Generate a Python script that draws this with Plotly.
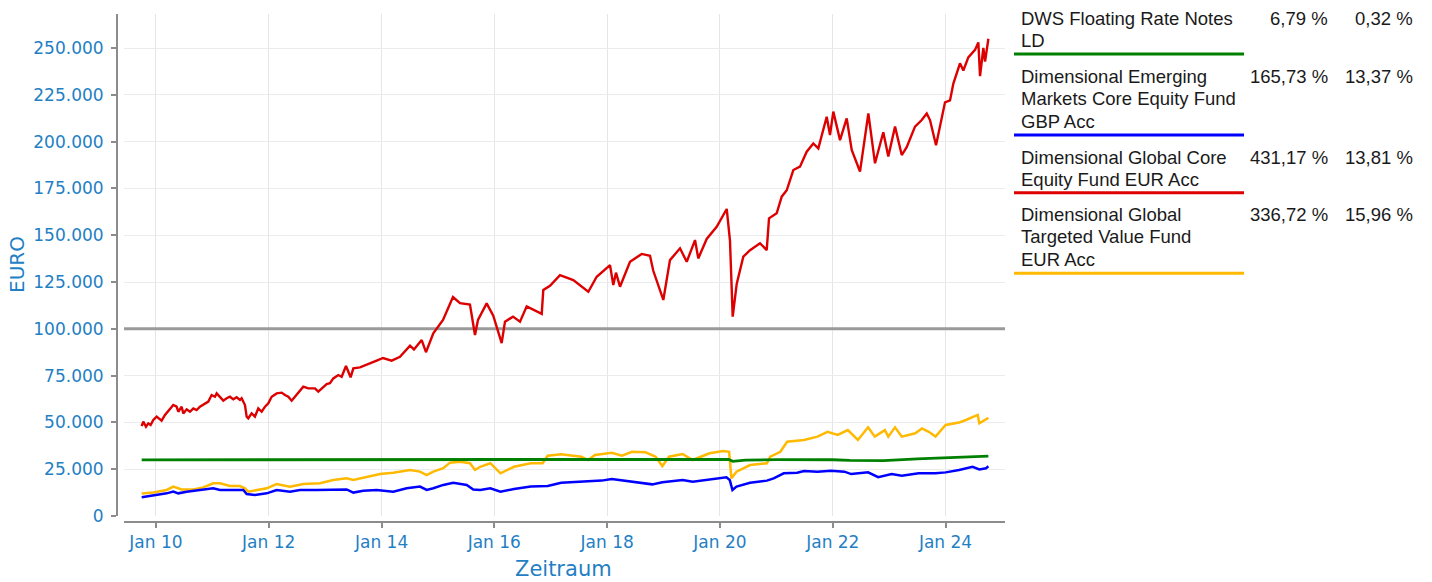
import pandas as pd
import plotly.graph_objects as go

# ---------------- data (time as decimal year, values in EUR) ----------------
green_t = [2009.747, 2012.0, 2015.0, 2018.0, 2020.15, 2020.225, 2020.45, 2021.0, 2021.6,
           2022.0, 2022.3, 2022.9, 2023.5, 2024.1, 2024.758]
green_v = [30000, 30050, 30100, 30150, 30300, 29200, 29900, 30100, 30200,
           30050, 29700, 29600, 30500, 31400, 32037]

blue_t = [2009.747, 2010.012, 2010.19, 2010.307, 2010.395, 2010.544, 2010.78, 2011.016, 2011.135, 2011.371,
          2011.548, 2011.608, 2011.755, 2011.963, 2012.14, 2012.376, 2012.553, 2012.849, 2013.144, 2013.381,
          2013.498, 2013.676, 2013.913, 2014.207, 2014.445, 2014.681, 2014.8, 2014.917, 2015.094, 2015.271,
          2015.509, 2015.626,
          2015.749, 2015.928, 2016.108, 2016.347, 2016.646, 2016.945, 2017.184, 2017.543, 2017.901, 2018.081,
          2018.44, 2018.798, 2018.978, 2019.336, 2019.516, 2019.815, 2020.114, 2020.173, 2020.221, 2020.293,
          2020.532, 2020.831, 2020.951, 2021.13, 2021.369, 2021.489, 2021.728, 2021.967, 2022.206, 2022.326,
          2022.625, 2022.804, 2023.043, 2023.223, 2023.522, 2023.821, 2024.0, 2024.239, 2024.478, 2024.598,
          2024.717, 2024.758]
blue_v = [10000, 11200, 12100, 13000, 12100, 13000, 13900, 14800, 13900, 13900,
          13900, 11750, 11200, 12100, 13900, 13000, 13900, 13900, 14200, 14200,
          12500, 13500, 13900, 13000, 14800, 15700, 13900, 14800, 16600, 17800,
          16600, 14200,
          13900, 14800, 13000, 14400, 15700, 16000, 17800, 18200, 18900, 19800,
          18300, 16900, 18000, 19200, 18300, 19600, 20700, 19200, 13900, 15700,
          17800, 18900, 20100, 22800, 23100, 24000, 23700, 24200, 23700, 22400,
          23300, 20700, 22400, 21500, 22800, 22800, 23300, 24600, 26300, 24900,
          25500, 26573]

red_t = [2009.746, 2009.775, 2009.823, 2009.864, 2009.905, 2009.953, 2010.012, 2010.071, 2010.10, 2010.16,
         2010.248, 2010.307, 2010.366, 2010.396, 2010.455, 2010.485, 2010.544, 2010.603, 2010.662, 2010.721,
         2010.78, 2010.839, 2010.928, 2010.987, 2011.046, 2011.076, 2011.135, 2011.194, 2011.253, 2011.312,
         2011.371, 2011.43, 2011.489, 2011.519, 2011.578, 2011.608, 2011.637, 2011.696, 2011.755, 2011.814,
         2011.874, 2011.933, 2011.992, 2012.051, 2012.14, 2012.228, 2012.287, 2012.346, 2012.406, 2012.465,
         2012.553, 2012.612, 2012.701, 2012.819, 2012.878, 2012.967, 2013.026, 2013.085, 2013.144, 2013.233,
         2013.292, 2013.369, 2013.41, 2013.451, 2013.499, 2013.617,
         2013.913,
         2014.025, 2014.179, 2014.326, 2014.504, 2014.574, 2014.711, 2014.787, 2014.917, 2015.089, 2015.266,
         2015.39, 2015.567, 2015.656, 2015.709, 2015.863, 2015.98, 2016.069, 2016.129, 2016.188, 2016.33,
         2016.454, 2016.573, 2016.839, 2016.867, 2016.986, 2017.163, 2017.399, 2017.665, 2017.814, 2018.05,
         2018.108, 2018.156, 2018.227, 2018.404, 2018.612, 2018.759, 2018.817, 2018.995, 2019.113, 2019.291,
         2019.41, 2019.557, 2019.615, 2019.764, 2019.941, 2020.119, 2020.177, 2020.225, 2020.296, 2020.413,
         2020.532, 2020.709, 2020.828, 2020.869, 2021.005, 2021.094, 2021.183, 2021.30, 2021.418, 2021.537,
         2021.654, 2021.743, 2021.892, 2021.95, 2022.009, 2022.128, 2022.246, 2022.335, 2022.482, 2022.63,
         2022.748, 2022.895, 2022.984, 2023.103, 2023.222, 2023.31, 2023.457, 2023.576, 2023.665, 2023.723,
         2023.83, 2023.931, 2023.989, 2024.078, 2024.137, 2024.255, 2024.314, 2024.402, 2024.521, 2024.58,
         2024.61, 2024.669, 2024.699, 2024.758]
red_v = [48000, 50400, 47700, 49500, 48600, 51300, 53100, 51600, 50900, 54000,
         57500, 59300, 58400, 55700, 58400, 54800, 57000, 55700, 57500, 56600,
         58400, 59300, 61100, 64600, 63700, 65500, 63700, 61600, 62900, 63700,
         62300, 63400, 62000, 62900, 59300, 53100, 52200, 54800, 53100, 57500,
         55700, 58400, 60200, 63700, 65500, 65900, 64600, 63700, 61600, 63700,
         67300, 69100, 68200, 68200, 66400, 69100, 70500, 70900, 73500, 75300,
         74400, 80100, 77100, 74100, 78900, 79400,
         83000,
         84400, 83000, 85000, 91000, 89000, 94000, 87500, 97600, 104700, 117000,
         113700, 113000, 96700, 104700, 113600, 107000, 97600, 92400, 103800, 106500,
         103800, 112000, 108000, 120700, 123000, 128700, 126000, 119800, 127800, 134000,
         123400, 130000, 122500, 135800, 140000, 139000, 131000, 115400, 136700, 143000,
         135800, 147400, 137600, 148000, 154500, 164000, 147000, 106500, 124000, 138500,
         142000, 145700, 142000, 159000, 161700, 170600, 174000, 184800, 186600, 194600,
         199000, 196400, 213300, 203500, 216000, 200800, 212400, 195500, 184000, 215000,
         188400, 205000, 192000, 208000, 192800, 197000, 208000, 211500, 215000, 211500,
         198000, 211500, 221000, 222000, 231000, 241800, 238000, 245000, 249000, 253000,
         235000, 250000, 242700, 254962]

yellow_t = [2009.747, 2009.952, 2010.19, 2010.307, 2010.456, 2010.661, 2010.839, 2011.016, 2011.135, 2011.312,
            2011.489, 2011.578, 2011.637, 2011.785, 2011.963, 2012.14, 2012.376, 2012.612, 2012.908, 2013.144,
            2013.381, 2013.498, 2013.736, 2013.972, 2014.207, 2014.504, 2014.681, 2014.8, 2014.917, 2015.094,
            2015.213, 2015.39, 2015.567, 2015.656,
            2015.749, 2015.928, 2016.108, 2016.347, 2016.646, 2016.855, 2016.945, 2017.184, 2017.543, 2017.662,
            2017.782, 2018.081, 2018.26, 2018.44, 2018.679, 2018.858, 2018.978, 2019.097, 2019.336, 2019.516,
            2019.815, 2020.054, 2020.161, 2020.203, 2020.293, 2020.532, 2020.831, 2020.891, 2021.07, 2021.19,
            2021.489, 2021.728, 2021.907, 2022.086, 2022.266, 2022.445, 2022.625, 2022.744, 2022.923, 2022.983,
            2023.103, 2023.223, 2023.462, 2023.581, 2023.701, 2023.821, 2024.0, 2024.239, 2024.359, 2024.568,
            2024.598, 2024.758]
yellow_v = [12000, 12500, 13900, 15700, 14200, 14200, 15300, 17500, 17500, 16000,
            16000, 14800, 13000, 13900, 14800, 17100, 15700, 17100, 17500, 19200,
            20100, 19200, 21000, 22400, 23100, 24600, 23700, 21900, 23700, 25500,
            28500, 29000, 28200, 24600,
            26300, 28200, 22800, 26300, 28200, 28200, 32200, 33000, 31700, 29900,
            32600, 33800, 32200, 34300, 34000, 31700, 26700, 31700, 33100, 29900,
            33500, 34700, 34300, 20100, 23700, 27200, 28200, 31700, 34300, 39700,
            40600, 42400, 45000, 43300, 45900, 40600, 47400, 42400, 45900, 42400,
            47400, 42400, 44200, 46800, 45000, 42400, 48600, 49900, 51300, 54000,
            49500, 52406]

fund_lines = [["DWS Floating Rate Notes", "LD"],
              ["Dimensional Emerging", "Markets Core Equity Fund", "GBP Acc"],
              ["Dimensional Global Core", "Equity Fund EUR Acc"],
              ["Dimensional Global", "Targeted Value Fund", "EUR Acc"]]
perf_total = ["6,79 %", "165,73 %", "431,17 %", "336,72 %"]
perf_pa = ["0,32 %", "13,37 %", "13,81 %", "15,96 %"]
colors = ["#008000", "#0000FF", "#DD0000", "#FFB900"]
reference_level = 100000
x_range = ["2009-06-08", "2025-01-20"]
y_range = [0, 268162]
y_ticks = [0, 25000, 50000, 75000, 100000, 125000, 150000, 175000, 200000, 225000, 250000]


def to_dates(years):
    base = pd.Timestamp("2010-01-01")
    return [(base + pd.Timedelta(days=(y - 2010.0) * 365.25)).round("h") for y in years]


series = [(green_t, green_v), (blue_t, blue_v), (red_t, red_v), (yellow_t, yellow_v)]
line_widths = [2.8, 2.5, 2.4, 2.5]
draw_order = [3, 1, 2, 0]   # yellow, blue, red, then green on top

# ---------------- layout geometry (pixels) ----------------
W, H = 1432, 582
L, R, T, B = 117, 1005, 14, 522      # subplot box
PW, PH = R - L, B - T


def xp(px):
    return (px - L) / PW


def yp(py):
    return (B - py) / PH


fig = go.Figure()
# reference level line (drawn first so the funds lie on top)
fig.add_trace(go.Scatter(x=x_range, y=[reference_level, reference_level], mode="lines",
                         line=dict(color="#9a9a9a", width=3), showlegend=False,
                         hoverinfo="skip"))
for k in draw_order:
    t, v = series[k]
    fig.add_trace(go.Scatter(x=to_dates(t), y=v, mode="lines",
                             line=dict(color=colors[k], width=line_widths[k]),
                             showlegend=False, hoverinfo="skip"))

tick_font = dict(family="DejaVu Sans", size=17, color="#1f80c4")

fig.update_layout(
    width=W, height=H,
    margin=dict(l=L, r=W - R, t=T, b=H - B, pad=0),
    paper_bgcolor="white", plot_bgcolor="white",
    separators=",.",
    showlegend=False,
    xaxis=dict(
        type="date",
        domain=[7 / PW, 1],
        anchor="free", position=0,
        range=x_range,
        tick0="2010-01-01", dtick="M24", tickformat="%b %y",
        showgrid=True, gridcolor="#e6e6ea", gridwidth=1,
        showline=True, linecolor="#8c8c8c", linewidth=2,
        ticks="outside", ticklen=5, tickwidth=1.5, tickcolor="#8c8c8c",
        tickfont=tick_font, zeroline=False,
    ),
    yaxis=dict(
        domain=[6 / PH, 1],
        anchor="free", position=0,
        range=y_range,
        tickvals=y_ticks, tickformat=",.0f",
        showgrid=True, gridcolor="#ececef", gridwidth=1,
        showline=True, linecolor="#8c8c8c", linewidth=2,
        ticks="outside", ticklen=5, tickwidth=1.5, tickcolor="#8c8c8c",
        tickfont=tick_font, zeroline=False, ticklabelstandoff=4,
    ),
)

annotations = []
# axis titles
annotations.append(dict(text="EURO", xref="paper", yref="paper", x=xp(17), y=yp(265),
                        textangle=-90, showarrow=False, xanchor="center", yanchor="middle",
                        font=dict(family="DejaVu Sans", size=20, color="#1f80c4")))
annotations.append(dict(text="Zeitraum", xref="paper", yref="paper", x=xp(563), y=yp(569),
                        showarrow=False, xanchor="center", yanchor="middle",
                        font=dict(family="DejaVu Sans", size=21, color="#1f80c4")))

# legend table
leg_font = dict(family="Liberation Sans, Arial", size=18.5, color="#1a1a1a")
row_first_y = [18.5, 76.5, 157, 214.5]
row_line_y = [54, 135, 192.7, 273.3]
line_gap = 22.4
shapes = []
for i, lines in enumerate(fund_lines):
    for j, txt in enumerate(lines):
        annotations.append(dict(text=txt, xref="paper", yref="paper",
                                x=xp(1019), y=yp(row_first_y[i] + j * line_gap),
                                showarrow=False, xanchor="left", yanchor="middle",
                                font=leg_font))
    annotations.append(dict(text=perf_total[i], xref="paper", yref="paper",
                            x=xp(1330), y=yp(row_first_y[i]), showarrow=False,
                            xanchor="right", yanchor="middle", font=leg_font))
    annotations.append(dict(text=perf_pa[i], xref="paper", yref="paper",
                            x=xp(1415), y=yp(row_first_y[i]), showarrow=False,
                            xanchor="right", yanchor="middle", font=leg_font))
    shapes.append(dict(type="line", xref="paper", yref="paper",
                       x0=xp(1014), x1=xp(1244), y0=yp(row_line_y[i]), y1=yp(row_line_y[i]),
                       line=dict(color=colors[i], width=3)))

fig.update_layout(annotations=annotations, shapes=shapes)
fig.write_html("out.html", config={"displayModeBar": False},
               post_script="document.body.style.margin='0';document.body.style.padding='0';")
